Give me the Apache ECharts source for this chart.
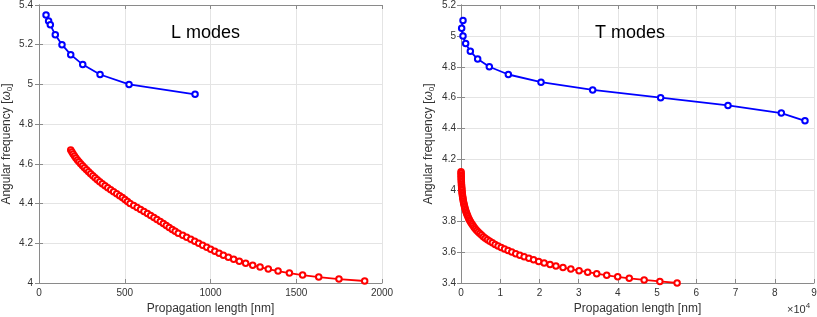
<!DOCTYPE html>
<html>
<head>
<meta charset="utf-8">
<script src="https://cdn.jsdelivr.net/npm/echarts@6/dist/echarts.min.js"></script>
<style>
html,body{margin:0;padding:0;background:#fff;}
#c{width:817px;height:317px;}
</style>
</head>
<body>
<div id="c"></div>
<script>
// ---- data ----
// L modes
const lBlueX = [41, 56, 66, 95, 134, 185, 255, 356, 525, 910];
const lBlueY = [5.35, 5.32, 5.30, 5.25, 5.20, 5.15, 5.10, 5.05, 5.00, 4.95];
const lRedX = [185, 192, 199, 207, 215, 224, 233, 243, 254, 265, 277, 289, 301, 314, 327, 340, 354, 369, 385, 401,
  418, 435, 453, 470, 486, 501, 516, 531, 552, 572, 592, 612, 632, 651, 670, 688, 707, 725, 742, 759,
  777, 794, 812, 838, 861, 885, 908, 931, 954, 978, 1001, 1025, 1050, 1075, 1104, 1135, 1168, 1205, 1246, 1289,
  1337, 1394, 1460, 1537, 1631, 1749, 1899];
const lRedY = [4.67, 4.66, 4.65, 4.64, 4.63, 4.62, 4.61, 4.60, 4.59, 4.58, 4.57, 4.56, 4.55, 4.54, 4.53, 4.52, 4.51, 4.50, 4.49, 4.48,
  4.47, 4.46, 4.45, 4.44, 4.43, 4.42, 4.41, 4.40, 4.39, 4.38, 4.37, 4.36, 4.35, 4.34, 4.33, 4.32, 4.31, 4.30, 4.29, 4.28,
  4.27, 4.26, 4.25, 4.24, 4.23, 4.22, 4.21, 4.20, 4.19, 4.18, 4.17, 4.16, 4.15, 4.14, 4.13, 4.12, 4.11, 4.10, 4.09, 4.08,
  4.07, 4.06, 4.05, 4.04, 4.03, 4.02, 4.01];
// T modes
const tBlueX = [510, 170, 510, 1190, 2380, 4250, 7220, 12070, 20400, 33570, 50900, 68070, 81670, 87700];
const tBlueY = [5.10, 5.05, 5.00, 4.95, 4.90, 4.85, 4.80, 4.75, 4.70, 4.65, 4.60, 4.55, 4.50, 4.45];
const tRedX = [10, 20, 30, 40, 50, 65, 80, 100, 120, 140, 170, 200, 230, 270, 310, 360, 410, 470, 530, 600,
  680, 760, 850, 950, 1060, 1180, 1310, 1450, 1600, 1760, 1940, 2130, 2340, 2570, 2820, 3090, 3380, 3690, 4030, 4400,
  4800, 5230, 5700, 6200, 6750, 7350, 8000, 8700, 9450, 10250, 11100, 12000, 12950, 13950, 15000, 16100, 17300, 18500, 19800, 21200,
  22700, 24200, 26000, 28000, 30100, 32300, 34600, 37150, 39950, 42900, 46700, 50700, 55100];
const tRedY = [4.12, 4.11, 4.10, 4.09, 4.08, 4.07, 4.06, 4.05, 4.04, 4.03, 4.02, 4.01, 4.00, 3.99, 3.98, 3.97, 3.96, 3.95, 3.94, 3.93,
  3.92, 3.91, 3.90, 3.89, 3.88, 3.87, 3.86, 3.85, 3.84, 3.83, 3.82, 3.81, 3.80, 3.79, 3.78, 3.77, 3.76, 3.75, 3.74, 3.73,
  3.72, 3.71, 3.70, 3.69, 3.68, 3.67, 3.66, 3.65, 3.64, 3.63, 3.62, 3.61, 3.60, 3.59, 3.58, 3.57, 3.56, 3.55, 3.54, 3.53,
  3.52, 3.51, 3.50, 3.49, 3.48, 3.47, 3.46, 3.45, 3.44, 3.43, 3.42, 3.41, 3.40];

// tick values
const lXTicks = [0, 500, 1000, 1500, 2000];
const lYTicks = [4.0, 4.2, 4.4, 4.6, 4.8, 5.0, 5.2, 5.4];
const tXTicks = [0, 10000, 20000, 30000, 40000, 50000, 60000, 70000, 80000, 90000];
const tYTicks = [3.4, 3.6, 3.8, 4.0, 4.2, 4.4, 4.6, 4.8, 5.0, 5.2];

const titles = ['L modes', 'T modes'];
const xName = 'Propagation length [nm]';
const yName = 'Angular frequency [{w|ω}{s|0}]';

// ---- chart ----
const zip = (xs, ys) => xs.map((x, i) => [x, ys[i]]);
const FONT = '"Liberation Sans", Arial, Helvetica, sans-serif';
const TXT = '#333333';
const AX = '#8a8a8a';
const GRIDC = '#e4e4e4';

function range(t) { return { min: t[0], max: t[t.length - 1], interval: Math.round((t[1] - t[0]) * 1000) / 1000 }; }
const fmtY = v => String(parseFloat(Number(v).toFixed(2)));
const fmtXL = v => String(Math.round(v));

function mainX(gi, ticks, fmt) {
  return Object.assign({
    type: 'value', gridIndex: gi, position: 'bottom',
    name: xName, nameLocation: 'middle', nameGap: 16,
    nameTextStyle: { fontFamily: FONT, fontSize: 12, color: TXT },
    axisLine: { show: true, lineStyle: { color: AX, width: 1 } },
    axisTick: { show: true, inside: true, length: 4, lineStyle: { color: AX } },
    axisLabel: { fontFamily: FONT, fontSize: 10, color: TXT, margin: 5, formatter: fmt },
    splitLine: { show: true, lineStyle: { color: GRIDC, width: 1 } }
  }, range(ticks));
}
function mirrorX(gi, ticks) {
  return Object.assign({
    type: 'value', gridIndex: gi, position: 'top',
    axisLine: { show: true, lineStyle: { color: AX, width: 1 } },
    axisTick: { show: true, inside: true, length: 4, lineStyle: { color: AX } },
    axisLabel: { show: false }, splitLine: { show: false }
  }, range(ticks));
}
function mainY(gi, ticks, gap, margin) {
  return Object.assign({
    type: 'value', gridIndex: gi, position: 'left',
    name: yName, nameLocation: 'middle', nameGap: gap,
    nameTextStyle: { fontFamily: FONT, fontSize: 12, color: TXT,
      rich: { w: { fontFamily: FONT, fontSize: 12, fontStyle: 'italic', color: TXT },
              s: { fontFamily: FONT, fontSize: 8, color: TXT, padding: [7, 0, 0, 0] } } },
    axisLine: { show: true, lineStyle: { color: AX, width: 1 } },
    axisTick: { show: true, inside: true, length: 4, lineStyle: { color: AX } },
    axisLabel: { fontFamily: FONT, fontSize: 10, color: TXT, margin: margin, formatter: fmtY },
    splitLine: { show: true, lineStyle: { color: GRIDC, width: 1 } }
  }, range(ticks));
}
function mirrorY(gi, ticks) {
  return Object.assign({
    type: 'value', gridIndex: gi, position: 'right',
    axisLine: { show: true, lineStyle: { color: AX, width: 1 } },
    axisTick: { show: true, inside: true, length: 4, lineStyle: { color: AX } },
    axisLabel: { show: false }, splitLine: { show: false }
  }, range(ticks));
}
function line(data, color, xi, yi) {
  return {
    type: 'line', data: data, xAxisIndex: xi, yAxisIndex: yi,
    symbol: 'emptyCircle', symbolSize: 5.5, showSymbol: true,
    lineStyle: { color: color, width: 1.8 },
    itemStyle: { color: color, borderColor: color, borderWidth: 1.4 },
    animation: false, silent: true
  };
}

const chart = echarts.init(document.getElementById('c'), null, { renderer: 'canvas' });
chart.setOption({
  backgroundColor: '#ffffff',
  animation: false,
  grid: [
    { left: 39, top: 5, width: 343, height: 278, containLabel: false, outerBoundsMode: 'none' },
    { left: 461, top: 5, width: 353, height: 278, containLabel: false, outerBoundsMode: 'none' }
  ],
  xAxis: [
    mainX(0, lXTicks, fmtXL),
    mainX(1, tXTicks, v => String(Math.round(v / 10000))),
    mirrorX(0, lXTicks),
    mirrorX(1, tXTicks)
  ],
  yAxis: [
    mainY(0, lYTicks, 25, 6),
    mainY(1, tYTicks, 25, 5),
    mirrorY(0, lYTicks),
    mirrorY(1, tYTicks)
  ],
  series: [
    line(zip(lBlueX, lBlueY), '#0000ff', 0, 0),
    line(zip(lRedX, lRedY), '#ff0000', 0, 0),
    line(zip(tBlueX, tBlueY), '#0000ff', 1, 1),
    line(zip(tRedX, tRedY), '#ff0000', 1, 1)
  ],
  graphic: [
    { type: 'text', z: 100, left: 171, top: 24, style: { text: titles[0], fontFamily: FONT, fontSize: 18, fill: '#000' } },
    { type: 'text', z: 100, left: 595, top: 24, style: { text: titles[1], fontFamily: FONT, fontSize: 18, fill: '#000' } },
    { type: 'text', z: 100, left: 787, top: 302, style: { text: '×10{sup|4}', fontFamily: FONT, fontSize: 11, fill: TXT,
        rich: { sup: { fontFamily: FONT, fontSize: 8, fill: TXT, padding: [0, 0, 7, 0] } } } }
  ]
});
</script>
</body>
</html>
